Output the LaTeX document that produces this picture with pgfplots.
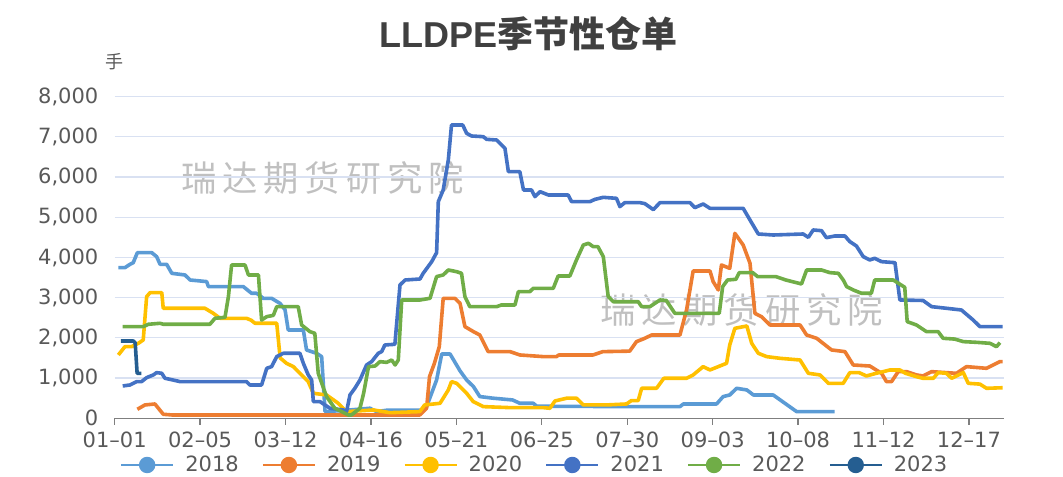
\documentclass[border=0pt]{standalone}
\usepackage{fontspec}
\setmainfont{DejaVu Sans}
\newfontfamily\cjk{Noto Sans CJK SC}
\newfontfamily\titlelatin{Liberation Sans}
\usepackage{pgfplots}
\pgfplotsset{compat=1.18}
\definecolor{c18}{HTML}{5B9BD5}
\definecolor{c19}{HTML}{ED7D31}
\definecolor{c20}{HTML}{FFC000}
\definecolor{c21}{HTML}{4472C4}
\definecolor{c22}{HTML}{70AD47}
\definecolor{c23}{HTML}{255E91}
\definecolor{gridc}{HTML}{D9E1F2}
\definecolor{axisc}{HTML}{7F7F7F}
\definecolor{textc}{HTML}{595959}
\definecolor{titlec}{HTML}{404040}
\definecolor{wmc}{HTML}{C0C0C0}
\newcommand{\wmch}[1]{\makebox[30.9pt]{#1}}
\newcommand{\wm}{\wmch{瑞}\wmch{达}\wmch{期}\wmch{货}\wmch{研}\wmch{究}\wmch{院}}
\begin{document}
\begin{tikzpicture}
\useasboundingbox (-86.0pt,-44.0pt) rectangle (711.2pt,313.7pt);
\node[font=\cjk\fontsize{26.5pt}{29pt}\selectfont, text=wmc, inner sep=0pt] at (155.9pt,180.2pt) {\wm};
\node[font=\cjk\fontsize{26.5pt}{29pt}\selectfont, text=wmc, inner sep=0pt] at (470.1pt,81.2pt) {\wm};
\node[text=titlec, inner sep=0pt] at (310.4pt,288.6pt) {\fontsize{27pt}{30pt}\selectfont\titlelatin\bfseries LLDPE\cjk\bfseries 季节性仓单};
\node[text=textc, inner sep=0pt, font=\cjk\fontsize{13.5pt}{15pt}\selectfont] at (0.2pt,267.2pt) {手};
\begin{axis}[
  scale only axis, width=667.2pt, height=241.2pt,
  xmin=0, xmax=364.5, ymin=0, ymax=8000,
  axis x line*=bottom, axis y line*=left,
  y axis line style={draw=none},
  x axis line style={-, color=axisc, line width=1pt},
  ytick={0,1000,...,8000},
  ytick style={draw=none},
  yticklabel style={xshift=-3.75pt},
  xticklabel style={yshift=-1.5pt},
  xtick={0,35,...,350},
  xticklabels={01–01,02–05,03–12,04–16,05–21,06–25,07–30,09–03,10–08,11–12,12–17},
  xtick style={color=axisc, line width=1pt},
  tick align=outside, major tick length=5pt,
  ymajorgrids, major grid style={color=gridc, line width=0.9pt},
  scaled y ticks=false,
  tick label style={font=\fontsize{15.75pt}{18pt}\selectfont, text=textc},
  /pgf/number format/.cd, 1000 sep={,}, assume math mode=true,
  /pgfplots/.cd,
  every axis plot/.append style={line width=2.7pt, line join=round, mark=none},
  legend columns=6,
  legend image code/.code={\draw[line width=2.2pt] (0pt,0pt) -- (39pt,0pt); \fill (19.5pt,0pt) circle (4.8pt);},
  legend style={at={(axis description cs:0.4708,-0.1452)}, anchor=center, draw=none, fill=none,
    font=\fontsize{15.75pt}{18pt}\selectfont, text=textc,
    nodes={inner sep=0pt},
    /tikz/every odd column/.append style={column sep=8pt},
    /tikz/every even column/.append style={column sep=17pt}},
]
% 2018
\addplot[color=c18] coordinates {(1.5,3747)(4.2,3747)(6.3,3830)(7.6,3870)(9.3,4120)(15.2,4120)(17.2,4020)(18.6,3830)(21.3,3830)(23.4,3606)(28.8,3565)(30.9,3440)(37.7,3400)(38.4,3275)(52.7,3275)(56.1,3109)(58.2,3109)(60.9,2984)(64.3,2984)(67.7,2860)(69.8,2700)(71.1,2197)(77.3,2197)(78.6,1700)(82.7,1617)(84.8,1534)(86.2,166)(95,200)(104.6,250)(107.3,166)(111.4,200)(126.4,200)(127.8,290)(131.9,953)(134,1600)(137.4,1600)(141.5,1180)(144.2,953)(147,788)(149.6,540)(155,500)(163,456)(166,373)(171.5,373)(172.9,300)(215,290)(231.6,290)(233,356)(246.6,356)(249.3,540)(252,580)(254.8,746)(259,705)(261.7,580)(269.8,580)(279.4,166)(295,166)};
% 2019
\addplot[color=c19] coordinates {(9.3,224)(12.4,332)(16.5,356)(19.9,100)(23.4,83)(125,83)(127.8,250)(129,1036)(131,1368)(133,1782)(134.6,2984)(139.4,2984)(141.5,2860)(143.5,2280)(147,2155)(149.6,2072)(153,1658)(162,1658)(166,1575)(175.6,1534)(181,1534)(182,1575)(196,1575)(200,1658)(211,1670)(213.8,1907)(217.2,1990)(220,2072)(231.6,2072)(234.3,2694)(237,3664)(243.9,3664)(245.2,3400)(247.3,3192)(248.6,3813)(252,3730)(254.1,4600)(257.5,4310)(260.3,3855)(262.3,2611)(265,2528)(268.5,2321)(280.8,2321)(283.5,2072)(287.6,1990)(293.7,1700)(299.2,1658)(302.6,1326)(309.4,1300)(314.2,1119)(316.2,912)(318.3,912)(321,1160)(324.5,1160)(328.5,1078)(331.2,1053)(334.7,1160)(344.9,1119)(349,1285)(357.2,1243)(362.7,1410)(363.8,1410)};
% 2020
\addplot[color=c20] coordinates {(1.5,1575)(4.2,1782)(6.9,1782)(9.7,1865)(11.7,1948)(13.1,3026)(14.5,3125)(19.3,3125)(19.9,2736)(37,2736)(40.4,2611)(43.2,2487)(54,2487)(55.9,2440)(57.5,2363)(66.4,2363)(67.8,1500)(70.4,1368)(73.2,1285)(76.6,1078)(79.3,912)(81.4,622)(86.8,580)(91.6,373)(95,166)(106,207)(112.8,140)(125,166)(127,332)(133.3,373)(136.7,705)(138,912)(140.1,870)(144.2,622)(146.9,415)(149.7,332)(151,290)(162,265)(175.6,265)(178.3,249)(180.4,431)(185.2,500)(189.2,500)(192,332)(201.5,332)(209.7,356)(211.7,440)(214.5,440)(215.9,746)(222,746)(225,995)(234.3,995)(237,1078)(241.1,1285)(243.9,1202)(247.3,1285)(250.7,1368)(252,1824)(254.1,2238)(259,2296)(261,1865)(263.7,1617)(267.1,1534)(272.6,1492)(280.8,1450)(284.2,1119)(289,1078)(292.4,870)(298.5,870)(301.2,1136)(305,1136)(308,1053)(312,1119)(314.9,1160)(317.6,1202)(321.7,1202)(324,1119)(328.5,1036)(331.2,995)(335.4,995)(337.4,1136)(340.8,1119)(342.9,995)(347.7,1136)(349.7,870)(354.5,850)(357.2,746)(363.8,760)};
% 2021
\addplot[color=c21] coordinates {(3.3,804)(6.3,829)(9,912)(11,912)(13.1,1011)(15.8,1078)(17.2,1136)(19.3,1119)(20.6,995)(22.6,970)(26.8,912)(54,912)(55.4,829)(60.2,829)(62.3,1243)(64.3,1285)(66.4,1534)(69.1,1617)(75.9,1617)(77.3,1368)(79.3,1078)(80.7,953)(81.4,415)(84.1,415)(88.2,249)(93.7,207)(95,166)(96.4,580)(98.4,746)(100.5,953)(103.2,1326)(105.3,1410)(108,1617)(109.4,1658)(110.7,1824)(114.8,1840)(116.9,3316)(119,3440)(125.1,3465)(126.4,3606)(129.9,3896)(131.9,4120)(132.6,5389)(134.6,5679)(136.7,6425)(138,7295)(142.6,7295)(144.2,7088)(146.2,7022)(151,7005)(152.4,6939)(156.5,6922)(159.9,6715)(161.3,6135)(166,6135)(167.5,5679)(170.8,5679)(172.2,5513)(174.3,5637)(177.7,5554)(185.8,5554)(187.2,5389)(194.7,5389)(196.8,5446)(200.2,5496)(205.6,5471)(207,5264)(209,5364)(215.2,5364)(217.2,5340)(220.7,5190)(223.4,5364)(235.7,5364)(237.7,5240)(241.1,5330)(243.9,5223)(257.5,5223)(260.3,4932)(263.7,4584)(269.8,4559)(282.1,4584)(284.2,4500)(286.2,4684)(289.6,4667)(291.6,4493)(295,4534)(299.2,4534)(301.2,4394)(303.9,4286)(306.7,4021)(309.4,3938)(311.4,3980)(314.2,3896)(319.7,3871)(321.7,2943)(331.2,2930)(334.7,2777)(340.8,2736)(346.9,2694)(351.7,2446)(354.5,2280)(363.8,2280)};
% 2022
\addplot[color=c22] coordinates {(3.3,2280)(11.7,2280)(13.8,2338)(18.6,2363)(20,2338)(39,2338)(41.1,2487)(45.2,2512)(46.6,3026)(47.9,3813)(53.4,3813)(54.8,3565)(58.9,3565)(60.2,2445)(62.3,2528)(65,2560)(66.4,2777)(75.2,2777)(76.6,2321)(80,2155)(82,2114)(83.4,1119)(86.8,540)(90.2,249)(95.7,83)(97,83)(100.5,249)(102,622)(104,1285)(106.7,1300)(108.7,1410)(111.4,1390)(113.5,1450)(114.9,1326)(116.2,1450)(117.6,2943)(125.1,2943)(129.2,2984)(131.9,3524)(134.6,3565)(136.7,3689)(140.1,3647)(142.1,3606)(143.5,3026)(145.5,2777)(156.5,2777)(158.5,2819)(164,2819)(165.4,3150)(170.1,3150)(171.5,3233)(179.7,3233)(181.7,3540)(186.5,3540)(189.2,3938)(192,4310)(194.1,4352)(196.1,4269)(198,4269)(200.2,4020)(202.2,3026)(204.3,2900)(214.5,2900)(215.9,2777)(219.3,2777)(223.4,2943)(226,2930)(229.5,2611)(247.7,2611)(249.1,3275)(251.1,3440)(254.5,3457)(255.9,3623)(261.4,3623)(263.4,3524)(270.9,3524)(275,3440)(281.4,3341)(283.5,3689)(289.6,3689)(293,3623)(296.5,3606)(298.5,3440)(299.9,3275)(302.6,3192)(306,3109)(310,3109)(311.4,3440)(319,3440)(323.7,3258)(324.7,2404)(328.5,2321)(332.6,2155)(337.4,2155)(339.4,1990)(344.2,1970)(347.7,1907)(353,1890)(358.6,1865)(361.3,1782)(362.7,1882)};
% 2023
\addplot[color=c23] coordinates {(2.5,1923)(7.6,1923)(8.4,1880)(9.2,1119)(10.9,1119)};
\legend{2018,2019,2020,2021,2022,2023}
\end{axis}
\end{tikzpicture}
\end{document}
